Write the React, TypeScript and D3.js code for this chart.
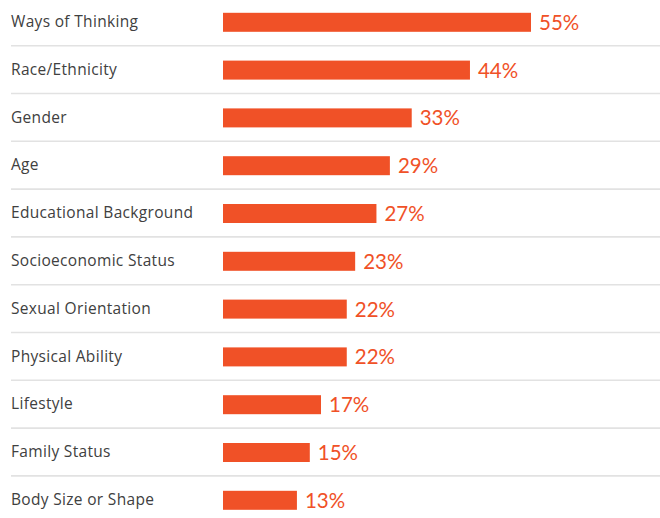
import React from "react";
import * as d3 from "d3";

const categories = [
  "Ways of Thinking",
  "Race/Ethnicity",
  "Gender",
  "Age",
  "Educational Background",
  "Socioeconomic Status",
  "Sexual Orientation",
  "Physical Ability",
  "Lifestyle",
  "Family Status",
  "Body Size or Shape",
];
const values = [55, 44.1, 33.7, 29.8, 27.4, 23.6, 22.1, 22.1, 17.5, 15.5, 13.2];
const valueLabels = ["55%", "44%", "33%", "29%", "27%", "23%", "22%", "22%", "17%", "15%", "13%"];

const W = 660;
const H = 518;

export default function App() {
  const x = d3.scaleLinear().domain([0, 55]).range([223, 531]);
  const y = d3
    .scaleBand<string>()
    .domain(categories)
    .range([-1.6, 476.4 + 47.8])
    .paddingInner(0)
    .paddingOuter(0);
  const step = y.step();
  const barH = 19;
  const labelFont = "'Open Sans', sans-serif";
  const valueFont = "Lato, 'Open Sans', sans-serif";
  return (
    <svg
      width={W}
      height={H}
      style={{ position: "absolute", left: 0, top: 0, background: "#fff" }}
    >
      {categories.map((c, i) => {
        const cy = (y(c) as number) + step / 2;
        return (
          <g key={c}>
            {i < categories.length - 1 && (
              <line
                x1={11}
                x2={W}
                y1={(y(c) as number) + step - 0.5}
                y2={(y(c) as number) + step - 0.5}
                stroke="#e2e2e2"
                strokeWidth={1.6}
              />
            )}
            <text
              x={11}
              y={cy + 4.6}
              fontFamily={labelFont}
              fontSize={15.5}
              letterSpacing={0.32}
              fill="#404040"
            >
              {c}
            </text>
            <rect
              x={x(0)}
              y={cy - barH / 2}
              width={x(values[i]) - x(0)}
              height={barH}
              fill="#f05127"
            />
            <text
              x={x(values[i]) + 8}
              y={cy + 7.5}
              fontFamily={valueFont}
              fontSize={20.5}
              fill="#f05127"
            >
              {valueLabels[i]}
            </text>
          </g>
        );
      })}
    </svg>
  );
}
